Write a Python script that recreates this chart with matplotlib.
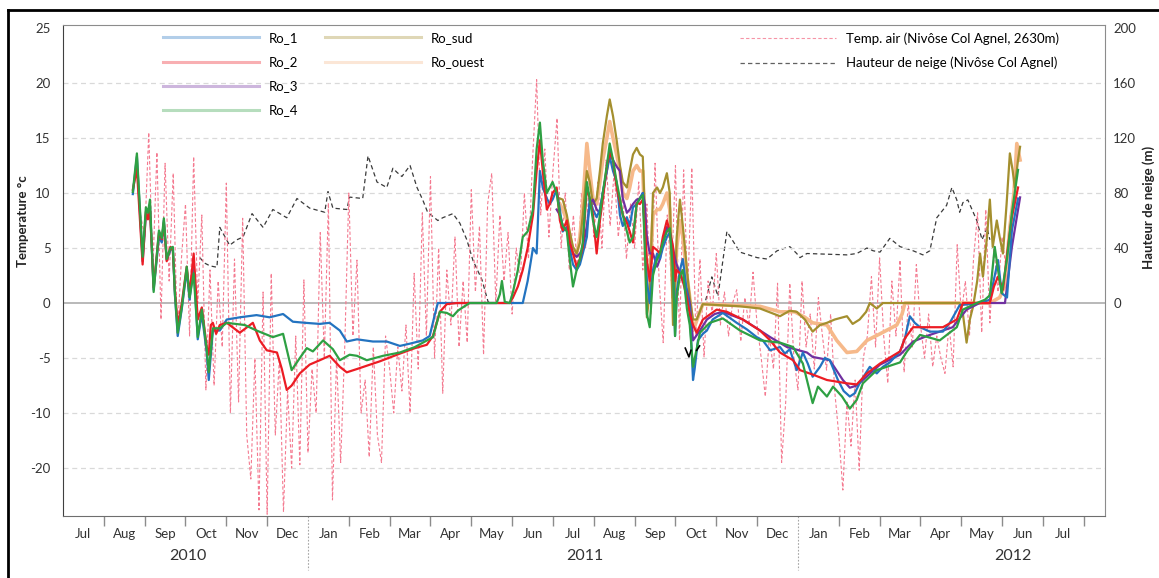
import matplotlib
matplotlib.use("Agg")
import matplotlib.pyplot as plt
from matplotlib.lines import Line2D
import numpy as np

plt.rcParams['font.family'] = ['Lato', 'DejaVu Sans']

# ---------------- axis categories ----------------
months = ['Jul', 'Aug', 'Sep', 'Oct', 'Nov', 'Dec', 'Jan', 'Feb', 'Mar', 'Apr', 'May', 'Jun',
          'Jul', 'Aug', 'Sep', 'Oct', 'Nov', 'Dec', 'Jan', 'Feb', 'Mar', 'Apr', 'May', 'Jun', 'Jul']
years = ['2010', '2011', '2012']
year_label_pos = [3.06, 12.78, 23.26]          # month index (0 = start of Jul 2010)
year_breaks = [6, 18]
temp_ticks = [25, 20, 15, 10, 5, 0, -5, -10, -15]
temp_tick_labels = ['25', '20', '15', '10', '5', '0', '-5', '-10', '-20']
snow_ticks = [0, 40, 80, 120, 160, 200]

# ---------------- series (x in months since 1 Jul 2010) ----------------
ro1_m = [1.71, 1.81, 1.95, 2.03, 2.08, 2.13, 2.22, 2.35, 2.42, 2.47, 2.54, 2.63, 2.69, 2.74, 2.81, 2.91,
         3.03, 3.10, 3.20, 3.30, 3.40, 3.52, 3.57, 3.67, 3.84, 4.01,
         4.33, 4.74, 5.06, 5.39, 5.63, 5.93, 6.29, 6.53, 6.78, 6.95, 7.20, 7.59, 7.93, 8.25, 8.49, 8.81,
         8.98, 9.11, 9.18, 11.26,
         11.38, 11.51, 11.60, 11.68, 11.75, 11.85, 11.92, 11.99, 12.09, 12.17, 12.24, 12.34, 12.41, 12.49,
         12.58, 12.66, 12.73, 12.83, 12.90, 12.98, 13.07, 13.15, 13.22, 13.32, 13.39, 13.47, 13.56, 13.64,
         13.71, 13.81, 13.88, 13.96, 14.05, 14.13, 14.20, 14.25, 14.30, 14.37, 14.45, 14.55, 14.62, 14.69,
         14.79, 14.86, 14.94, 14.99, 15.03, 15.11, 15.18, 15.28, 15.35, 15.43,
         15.47, 15.55, 15.67, 15.77, 15.91, 16.16, 16.50, 16.75, 16.99, 17.14, 17.32, 17.56, 17.68, 17.80,
         17.97, 18.12, 18.24, 18.36, 18.54, 18.66, 18.78, 18.98, 19.12, 19.27, 19.39, 19.51, 19.64, 19.76,
         19.93, 20.08, 20.25, 20.50, 20.62, 20.74, 20.86, 20.99, 21.23, 21.55, 21.72, 21.96, 22.45, 22.70,
         22.82, 22.90, 22.99, 23.12, 23.24, 23.39]
ro1_t = [9.9, 13.3, 3.8, 8.0, 7.8, 8.8, 1.2, 6.0, 5.5, 7.5, 3.9, 4.8, 5.0, 0.8, -3.0, -0.5,
         3.0, 0.3, 3.5, -3.3, -1.0, -4.5, -7.0, -2.5, -2.5, -1.5,
         -1.3, -1.1, -1.3, -1.0, -1.7, -1.8, -1.9, -1.8, -2.5, -3.5, -3.3, -3.5, -3.5, -3.9, -3.7, -3.4,
         -3.0, -1.0, 0.0, 0.0,
         2.0, 5.0, 4.5, 12.0, 10.5, 9.5, 9.0, 9.4, 10.3, 8.5, 6.5, 6.9, 5.0, 3.5,
         3.0, 3.5, 4.5, 6.0, 9.5, 8.5, 7.8, 8.5, 10.0, 12.0, 13.3, 12.0, 11.0, 8.0,
         7.0, 7.8, 7.0, 8.7, 9.0, 9.5, 10.0, 6.0, 2.0, 0.0, 3.0, 4.5, 4.0, 5.0,
         6.0, 6.4, 4.0, -3.0, 1.0, 3.0, 4.0, 1.0, -0.5, -7.0,
         -6.0, -3.4, -2.8, -2.5, -1.5, -0.9, -1.8, -2.4, -3.1, -3.4, -4.3, -4.0, -4.6, -4.2,
         -6.1, -4.5, -5.5, -6.7, -5.8, -5.0, -5.2, -7.0, -8.0, -8.5, -8.2, -7.3, -6.5, -5.8,
         -6.4, -5.8, -5.4, -4.4, -3.2, -1.2, -1.8, -2.2, -2.6, -2.6, -1.8, -0.2, 0.0, 0.3,
         2.5, 3.9, 0.9, 0.5, 6.6, 9.5]

ro2_m = [1.71, 1.81, 1.95, 2.03, 2.08, 2.13, 2.22, 2.35, 2.42, 2.47, 2.54, 2.63, 2.69, 2.74, 2.81, 2.91,
         3.03, 3.10, 3.20, 3.30, 3.40, 3.52, 3.57, 3.62, 3.67, 3.75, 3.84, 4.01,
         4.33, 4.65, 4.82, 4.99, 5.11, 5.24, 5.36, 5.48, 5.60, 5.80, 6.04, 6.29, 6.53, 6.78, 6.95, 7.20,
         7.44, 7.76, 8.25, 8.62, 8.91, 9.06, 9.23, 9.40, 9.65, 10.94, 11.02, 11.14,
         11.26, 11.38, 11.51, 11.60, 11.68, 11.75, 11.85, 11.92, 11.99, 12.09, 12.17, 12.24, 12.34, 12.41,
         12.49, 12.58, 12.66, 12.73, 12.83, 12.90, 12.98, 13.07, 13.15, 13.22, 13.32, 13.39, 13.47, 13.56,
         13.64, 13.71, 13.81, 13.88, 13.96, 14.05, 14.13, 14.20, 14.25, 14.30, 14.37, 14.45, 14.55, 14.62,
         14.69, 14.79, 14.86, 14.94, 14.99, 15.03, 15.11, 15.18, 15.28, 15.35, 15.43,
         15.52, 15.67, 16.01, 16.26, 16.65, 17.07, 17.32, 17.56, 17.88, 18.05, 18.36, 18.71, 19.20, 19.44,
         19.69, 20.01, 20.50, 20.62, 20.82, 21.55, 21.89, 22.04, 22.70, 22.80, 22.90, 23.02, 23.14, 23.24,
         23.39]
ro2_t = [10.3, 12.2, 3.5, 8.3, 7.6, 8.5, 1.4, 6.4, 5.8, 7.3, 3.8, 5.1, 4.8, 1.2, -2.0, 0.0,
         3.3, 0.8, 4.5, -1.5, -0.4, -4.0, -4.7, -2.0, -1.8, -2.8, -2.0, -1.8,
         -2.7, -1.8, -3.4, -4.3, -4.4, -4.5, -6.0, -7.9, -7.5, -6.4, -5.6, -5.2, -4.8, -5.8, -6.3, -6.0,
         -5.7, -5.3, -4.6, -4.1, -3.8, -3.0, -0.8, -0.1, 0.0, 0.0, 0.5, 1.5,
         3.0, 5.0, 8.0, 12.0, 14.8, 12.0, 8.5, 9.0, 10.0, 10.5, 7.5, 6.6, 7.5, 5.5,
         4.5, 3.3, 4.0, 5.1, 10.5, 9.5, 8.0, 4.5, 7.5, 9.4, 12.5, 13.6, 13.0, 10.5,
         9.1, 8.0, 7.3, 6.5, 5.5, 9.1, 9.0, 9.4, 7.0, 3.9, 2.0, 5.1, 4.8, 4.5,
         6.0, 7.5, 6.5, 5.1, 2.0, 3.0, 2.7, 2.0, 0.5, -1.0, -2.0,
         -2.7, -1.5, -0.6, -0.8, -1.5, -2.5, -3.4, -4.5, -5.2, -6.1, -6.5, -7.0, -7.3, -7.4,
         -6.4, -5.5, -4.4, -3.2, -2.2, -2.2, -1.5, 0.0, 0.0, 1.5, 2.4, 1.2, 5.0, 7.8,
         10.5]

ro3_m = [12.09, 12.17, 12.24, 12.34, 12.41, 12.49, 12.58, 12.66, 12.73, 12.83, 12.90, 12.98, 13.07, 13.15,
         13.22, 13.32, 13.39, 13.47, 13.56, 13.64, 13.71, 13.81, 13.88, 13.96, 14.05, 14.13, 14.20, 14.25,
         14.30, 14.37, 14.45, 14.55, 14.62, 14.69, 14.79, 14.86, 14.94, 14.99, 15.03, 15.11, 15.18, 15.28,
         15.35, 15.43, 15.60, 15.77, 15.96, 16.16, 16.65, 16.99, 17.32, 17.73, 18.22, 18.36, 18.78, 19.10,
         19.27, 19.44, 19.59, 20.01, 20.50, 20.82, 21.23, 21.79, 22.13, 22.45, 23.07, 23.24, 23.44]
ro3_t = [8.5, 8.0, 7.0, 6.6, 5.5, 4.5, 4.2, 4.5, 5.0, 7.0, 9.0, 9.4, 8.5, 8.2,
         10.0, 12.0, 13.9, 13.0, 12.4, 12.0, 9.5, 8.2, 8.5, 9.0, 9.4, 9.5, 10.0, 9.0,
         6.0, 4.5, 4.5, 3.3, 4.0, 5.5, 6.9, 6.5, 5.0, 4.0, 3.5, 2.7, 2.0, 1.2,
         0.0, -3.4, -2.5, -1.5, -1.0, -0.8, -1.5, -2.3, -3.1, -4.0, -4.5, -4.9, -5.2, -7.0,
         -7.7, -7.5, -7.0, -5.6, -4.7, -3.5, -2.9, -2.2, -0.6, 0.0, 0.0, 5.1, 9.6]

ro4_m = [1.71, 1.81, 1.95, 2.03, 2.08, 2.13, 2.22, 2.35, 2.42, 2.47, 2.54, 2.63, 2.69, 2.74, 2.81, 2.91,
         3.03, 3.10, 3.20, 3.30, 3.40, 3.52, 3.57, 3.67, 3.84, 4.01,
         4.45, 4.74, 5.14, 5.39, 5.60, 5.80, 5.97, 6.12, 6.37, 6.61, 6.78, 7.02, 7.20, 7.44, 7.84, 8.25,
         8.62, 8.91, 9.06, 9.23, 9.40, 9.55, 9.67, 9.79, 9.96, 10.62, 10.70, 10.75, 10.82, 10.94,
         11.02, 11.14, 11.26, 11.38, 11.51, 11.60, 11.68, 11.75, 11.85, 11.92, 11.99, 12.09, 12.17, 12.24,
         12.34, 12.41, 12.49, 12.58, 12.66, 12.73, 12.83, 12.90, 12.98, 13.07, 13.15, 13.22, 13.32, 13.39,
         13.47, 13.56, 13.64, 13.71, 13.81, 13.88, 13.96, 14.05, 14.13, 14.20, 14.25, 14.30, 14.37, 14.45,
         14.55, 14.62, 14.69, 14.79, 14.86, 14.94, 14.99, 15.03, 15.11, 15.18, 15.28, 15.35, 15.43,
         15.60, 15.84, 16.16, 16.58, 17.07, 17.56, 17.88, 18.12, 18.36, 18.49, 18.71, 18.86, 19.08, 19.27,
         19.44, 19.59, 19.93, 20.50, 20.67, 20.99, 21.47, 21.89, 22.04, 22.38, 22.58, 22.70, 22.82, 22.90,
         22.99, 23.12, 23.24, 23.39]
ro4_t = [10.1, 13.6, 4.2, 8.7, 8.2, 9.4, 1.0, 6.6, 5.9, 7.7, 4.0, 5.0, 5.1, 0.9, -2.7, -0.4,
         3.3, 0.5, 2.7, -3.1, -0.6, -4.2, -6.3, -2.3, -2.3, -1.8,
         -2.0, -2.5, -3.1, -2.8, -6.1, -5.0, -4.1, -4.4, -3.4, -4.2, -5.2, -4.7, -4.8, -5.2, -4.8, -4.5,
         -4.0, -3.4, -3.1, -0.8, -0.9, -1.2, -0.7, -0.4, 0.0, 0.0, 0.8, 2.0, 0.1, 0.0,
         1.0, 3.0, 6.0, 6.5, 8.5, 14.0, 16.4, 13.0, 10.0, 10.5, 11.0, 10.0, 8.0, 7.0,
         6.5, 4.0, 1.5, 3.0, 4.0, 5.5, 11.0, 9.5, 7.5, 6.0, 8.0, 10.0, 12.5, 14.5,
         13.0, 11.0, 9.5, 8.0, 6.5, 5.5, 6.0, 9.0, 9.5, 9.8, 5.0, -1.0, -2.2, 2.5,
         4.0, 4.5, 5.5, 6.5, 6.8, 3.0, -3.0, 0.5, 2.5, 3.0, -0.5, -2.0, -5.8,
         -2.7, -1.8, -1.4, -2.5, -3.4, -3.6, -4.0, -5.5, -9.1, -7.6, -8.5, -7.6, -8.5, -9.6,
         -8.8, -7.3, -6.1, -5.4, -4.4, -2.9, -3.4, -2.2, -0.6, 0.0, 0.3, 0.7, 5.1, 3.0,
         0.9, 4.0, 8.2, 12.1]

ro_sud_m = [12.17, 12.24, 12.34, 12.41, 12.49, 12.58, 12.66, 12.73, 12.83, 12.90, 12.98, 13.07, 13.15,
            13.22, 13.32, 13.39, 13.47, 13.56, 13.64, 13.71, 13.81, 13.88, 13.96, 14.05, 14.13, 14.20,
            14.25, 14.30, 14.37, 14.45, 14.55, 14.62, 14.69, 14.79, 14.86, 14.94, 14.99, 15.03, 15.11,
            15.18, 15.23, 15.28, 15.35, 15.43, 15.52, 15.67, 16.09, 16.58, 17.07, 17.56, 17.80, 17.97,
            18.17, 18.36, 18.54, 18.71, 18.90, 19.20, 19.34, 19.51, 19.67, 19.76, 19.93, 20.08, 21.96,
            22.04, 22.13, 22.21, 22.29, 22.39, 22.46, 22.53, 22.63, 22.70, 22.77, 22.87, 22.94, 23.02,
            23.11, 23.19, 23.26, 23.31, 23.39, 23.44]
ro_sud_t = [9.5, 9.4, 8.0, 6.5, 5.1, 4.5, 5.5, 8.0, 12.0, 11.0, 9.0, 9.5, 12.0,
            14.5, 17.0, 18.5, 17.0, 14.8, 12.5, 11.0, 10.5, 12.0, 13.5, 14.1, 13.5, 13.3,
            8.0, -1.3, 1.0, 10.0, 10.5, 10.0, 10.5, 11.8, 10.0, -2.0, 1.0, 6.0, 9.4,
            7.0, 5.1, 3.0, 0.5, -1.5, -1.5, -0.1, -0.2, -0.3, -0.5, -1.2, -0.7, -0.8,
            -1.5, -2.6, -2.0, -1.8, -1.5, -1.2, -1.9, -1.5, -0.8, 0.0, -0.5, 0.0, 0.0,
            -1.0, -3.6, -1.5, -0.3, 2.0, 4.5, 2.4, 6.0, 9.4, 5.1, 7.5, 6.0, 4.5,
            9.0, 13.6, 12.0, 10.5, 13.0, 14.2]

ro_ouest_m = [12.17, 12.24, 12.34, 12.41, 12.49, 12.58, 12.66, 12.73, 12.83, 12.90, 12.98, 13.07, 13.15,
              13.22, 13.32, 13.39, 13.47, 13.56, 13.64, 13.71, 13.81, 13.88, 13.96, 14.05, 14.13, 14.20,
              14.25, 14.30, 14.37, 14.45, 14.55, 14.62, 14.69, 14.79, 14.86, 14.94, 14.99, 15.03, 15.11,
              15.18, 15.28, 15.35, 15.43, 15.60, 15.67, 17.07, 17.56, 17.92, 18.17, 18.36, 18.71, 18.95,
              19.20, 19.44, 19.69, 20.01, 20.42, 20.55, 20.62, 22.70, 22.94, 23.06, 23.19, 23.29, 23.36,
              23.44]
ro_ouest_t = [9.0, 8.5, 7.5, 6.0, 4.8, 4.5, 6.0, 9.0, 14.5, 12.0, 9.5, 9.0, 11.0,
              13.0, 15.0, 16.5, 15.0, 13.5, 12.0, 10.0, 9.5, 10.5, 12.0, 12.5, 12.0, 12.0,
              7.0, 0.0, 2.0, 8.0, 8.5, 8.5, 9.0, 10.0, 8.5, 0.5, 2.0, 5.0, 7.5,
              6.0, 2.5, 0.5, -2.5, -0.8, -0.1, -0.3, -0.8, -0.8, -1.3, -1.8, -2.0, -3.4,
              -4.5, -4.4, -3.4, -2.8, -2.0, -1.0, 0.0, 0.0, 0.5, 1.5, 6.9, 10.0, 14.5,
              13.0]

# air temperature (Nivose Col Agnel), every ~3 days starting mid-Aug 2010
air_start_m = 1.9
air_step_m = 0.1
air_temp = [8,
            6, 15.5, 3, 13.7, -1.5, 12.7, 2, 11.8, -3, 4,
            9, -3, 13.3, 0, 8, -7.9, 3, -7.5, 2, -4,
            10.9, -10, 4, -9, 7.7, -12, -16, -5, -18.8, 1,
            -19.2, 2.7, -12, -5, -19, -8, -15, -3, -14.7, 2.1,
            -13.6, -6, -10, 6.4, -5, 9.1, -17.9, -5, -14.5, -4,
            10, -3, 3.9, -10, -7, -14, -4, -12, -14.5, -3,
            -6, -10, -4, -8, -2, -10, 2.7, -6, 8.2, -3,
            11.5, -5, 5, -8.2, 3, -2, 6, -4, 2, -3.6,
            10.3, 1, 7, -4.7, 9, 11.8, 0, 8, 2, 6.4,
            -1, 5, 2, 10, 4, 13, 20.3, 8, 14, 6,
            12, 16.8, 5, 10, 3, 8, 3, 10, 5, 12,
            6, 11, 5, 13, 7, 12, 6, 10, 4, 9,
            5, 11, 3, 9, -1, 12.7, 2, -3.6, 8, 2,
            12.5, -3.4, 12.1, 1, 12.3, -3, 4, -4.9, 2, -1,
            4.5, -2, 1, -3, 0, 1.2, -3.5, 0.5, -2, 2.8,
            -2, -5, -8.5, -3, -6, 1.8, -14.5, -9, 1.8, -5,
            -7.9, 2, -4, -1, -6, 0.5, -3, -6.1, -1, -8,
            -12, -17, -9, -13, -7, -15.2, -5, -3, 2.4, -4,
            4.1, -3, -7.3, 2, -3, 3.9, -6.3, 0, -4, 3.5,
            -2, -5, -1, -5.8, -3, -5, -6.4, -2, -5.8, 5.3,
            -1, 2, -3, 4, 8.2, -2.7, 8.5, -1.8, 5, 1,
            6, 3, 8]

# snow height (right axis)
snow1_m = [3.35, 3.47, 3.60, 3.77, 3.84, 4.08, 4.26, 4.41, 4.63, 4.90, 5.14, 5.48, 5.73, 6.04, 6.41, 6.49,
           6.61, 6.95, 7.02, 7.34, 7.47, 7.69, 7.93, 8.08, 8.18, 8.30, 8.50, 8.67, 8.81, 8.93, 9.18, 9.30,
           9.55, 9.72, 9.89, 10.04, 10.26, 10.41, 10.45]
snow1_h = [33, 29, 27, 26, 55, 42, 46, 48, 65, 55, 68, 62, 76, 69, 66, 81,
           69, 68, 77, 76, 107, 88, 84, 98, 95, 92, 100, 84, 75, 66, 60, 62,
           65, 58, 46, 31, 17, 1, 0]
snow2_m = [15.74, 15.89, 16.04, 16.26, 16.58, 17.00, 17.24, 17.49, 17.80, 17.97, 18.05, 18.22, 19.20, 19.44,
           19.69, 19.84, 20.01, 20.25, 20.50, 20.82, 21.06, 21.23, 21.40, 21.64, 21.77, 21.89, 21.96, 22.04,
           22.16, 22.38, 22.51, 22.63, 22.70]
snow2_h = [2, 19, 5, 52, 37, 33, 32, 38, 41, 36, 33, 36, 35, 36,
           40, 38, 37, 47, 41, 38, 35, 38, 62, 71, 84, 75, 66, 73,
           75, 60, 46, 55, 46]

# small black marks near the Oct 2011 minimum
mark_m = [15.24, 15.33, 15.38, np.nan, 15.52, 15.59]
mark_t = [-4.1, -4.9, -4.3, np.nan, -4.3, -3.9]

# ---------------- figure ----------------
W, H = 1159, 578
fig = plt.figure(figsize=(W / 100, H / 100), dpi=100)
L, R, T, B = 63, 1105, 25, 516
ax = fig.add_axes([L / W, 1 - B / H, (R - L) / W, (B - T) / H])
ax2 = ax.twinx()
ax.set_zorder(2)
ax.patch.set_visible(False)
ax2.set_zorder(1)

ymin, ymax = -19.36, 25.27
ax.set_xlim(0, 25.52)
ax.set_ylim(ymin, ymax)
ax2.set_ylim(ymin * 8, ymax * 8)

# grid
for t in temp_ticks:
    if t == 0:
        ax.axhline(0, color='#a6a6a6', lw=1.1, zorder=0.5)
    elif t != 25:
        ax.axhline(t, color='#d9d9d9', lw=0.9, dashes=(4, 3), zorder=0.4)

# air temperature
air_m = air_start_m + air_step_m * np.arange(len(air_temp))
ax.plot(air_m, air_temp, color='#f47a90', lw=0.8, dashes=(3, 2), zorder=1)

# snow height
snow_kw = dict(color='#3a3a3a', lw=0.9, dashes=(3.5, 2.5))
ax2.plot(snow1_m, snow1_h, **snow_kw)
ax2.plot(snow2_m, snow2_h, **snow_kw)

c_ro1, c_ro2, c_ro3, c_ro4 = '#2373c0', '#ec1c24', '#7030a0', '#2ea043'
c_sud, c_ouest = '#a48f2e', '#f6b98a'
ax.plot(ro_ouest_m, ro_ouest_t, color=c_ouest, lw=2.6, zorder=2)
ax.plot(ro_sud_m, ro_sud_t, color=c_sud, lw=1.6, zorder=2.1)
ax.plot(ro3_m, ro3_t, color=c_ro3, lw=1.6, zorder=2.2)
ax.plot(ro1_m, ro1_t, color=c_ro1, lw=1.6, zorder=2.3)
ax.plot(ro2_m, ro2_t, color=c_ro2, lw=1.6, zorder=2.4)
ax.plot(ro4_m, ro4_t, color=c_ro4, lw=1.6, zorder=2.5)
ax.plot(mark_m, mark_t, color='black', lw=1.2, zorder=2.6)

# y axes
ax.set_yticks(temp_ticks)
ax.set_yticklabels(temp_tick_labels)
ax.tick_params(axis='y', length=0, pad=9, labelsize=9.5, labelcolor='#333333')
ax2.set_yticks(snow_ticks)
ax2.tick_params(axis='y', length=0, pad=6, labelsize=9.5, labelcolor='#333333')

ax.set_ylabel('Temperature °c', fontsize=9.5, fontweight='bold', color='#222222')
ax.yaxis.set_label_coords(-(L - 29) / (R - L), (B - 221) / (B - T))
ax2.set_ylabel('Hauteur de neige (m)', fontsize=9.5, fontweight='bold', color='#222222',
               rotation=90)
ax2.yaxis.set_label_coords(1 + (1142 - R) / (R - L), (B - 207) / (B - T))

# x axis: month boundaries as ticks, month names centred
ax.set_xticks([k for k in range(1, 26) if k not in year_breaks])
ax.set_xticklabels([])
ax.tick_params(axis='x', which='major', length=7, width=1.0, color='#8c8c8c', direction='out')
ax.set_xticks([k + 0.5 for k in range(len(months))], minor=True)
ax.set_xticklabels(months, minor=True)
ax.tick_params(axis='x', which='minor', length=0, pad=9, labelsize=9.5, labelcolor='#333333')

xt = ax.get_xaxis_transform()
for yb in year_breaks:
    ax.plot([yb, yb], [0, -(570 - B) / (B - T)], transform=xt, clip_on=False,
            color='#a6a6a6', lw=0.8, dashes=(1.5, 1.5))
for pos, yr in zip(year_label_pos, years):
    ax.text(pos, -(556 - B) / (B - T), yr, transform=xt, ha='center', va='center',
            fontsize=11.5, color='#333333')

# spines
for s in ['top', 'right']:
    ax.spines[s].set_color('#8c8c8c')
ax.spines['left'].set_color('#404040')
ax.spines['bottom'].set_color('#6e6e6e')
for s in ax2.spines.values():
    s.set_visible(False)

# legends (three groups)
def pale(c):
    return Line2D([], [], color=c, lw=2.2, alpha=0.35)

leg_kw = dict(frameon=False, fontsize=9.5, handlelength=7.3, handletextpad=0.75,
              labelspacing=0.92, borderpad=0, borderaxespad=0, loc='upper left',
              bbox_transform=fig.transFigure)
fig.legend([pale(c_ro1), pale(c_ro2), pale(c_ro3), pale(c_ro4)],
           ['Ro_1', 'Ro_2', 'Ro_3', 'Ro_4'], bbox_to_anchor=(163 / W, 1 - 32 / H), **leg_kw)
fig.legend([pale(c_sud), pale(c_ouest)], ['Ro_sud', 'Ro_ouest'],
           bbox_to_anchor=(325 / W, 1 - 32 / H), **leg_kw)
fig.legend([Line2D([], [], color='#f47a90', lw=0.8, dashes=(3, 2), alpha=0.8),
            Line2D([], [], color='#3a3a3a', lw=0.9, dashes=(3.5, 2.5), alpha=0.8)],
           ['Temp. air (Nivôse Col Agnel, 2630m)', 'Hauteur de neige (Nivôse Col Agnel)'],
           bbox_to_anchor=(740 / W, 1 - 32 / H), **leg_kw)

# outer frame (top and left edges visible in the original)
fig.add_artist(Line2D([8 / W, 1], [1 - 10 / H, 1 - 10 / H], transform=fig.transFigure,
                      color='black', lw=2))
fig.add_artist(Line2D([8 / W, 8 / W], [0, 1 - 10 / H], transform=fig.transFigure,
                      color='black', lw=2))

fig.savefig('out.png', dpi=100)
